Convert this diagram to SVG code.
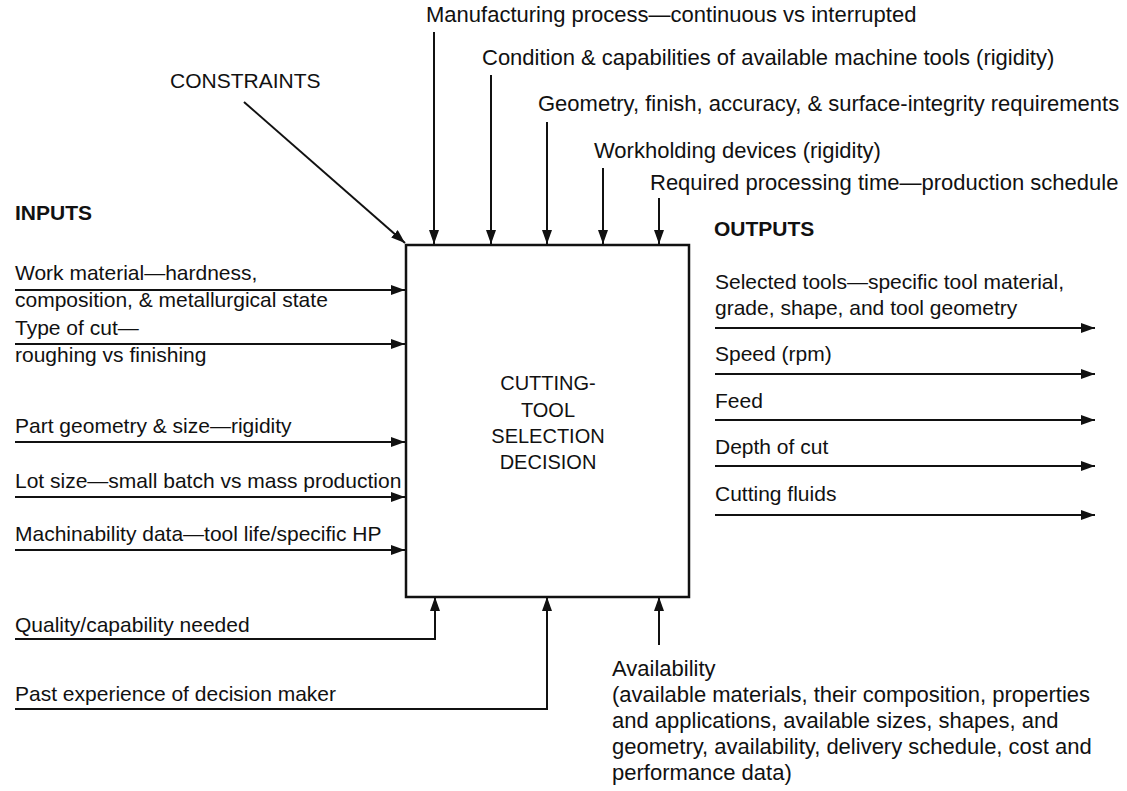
<svg xmlns="http://www.w3.org/2000/svg" width="1127" height="791" viewBox="0 0 1127 791">
<style>
text{font-family:"Liberation Sans",Arial,Helvetica,sans-serif;font-size:21px;fill:#111}
.b{font-weight:bold}
.c{text-anchor:middle;font-size:20px}
.av{font-size:22px}
.tp{font-size:22px}
.ln{stroke:#111;stroke-width:2;fill:none}
.box{stroke:#111;stroke-width:2.5;fill:#fff}
</style>
<defs>
<marker id="ah" markerUnits="userSpaceOnUse" markerWidth="14" markerHeight="10" refX="14" refY="5" orient="auto">
<path d="M0,0 L14,5 L0,10 z" fill="#111"/>
</marker>
</defs>
<rect width="1127" height="791" fill="#fff"/>

<g id="connectors">
<line class="ln" x1="244" y1="102" x2="405" y2="243" marker-end="url(#ah)"/>
<line class="ln" x1="434" y1="32" x2="434" y2="244" marker-end="url(#ah)"/>
<line class="ln" x1="491" y1="75" x2="491" y2="244" marker-end="url(#ah)"/>
<line class="ln" x1="547" y1="122" x2="547" y2="244" marker-end="url(#ah)"/>
<line class="ln" x1="603" y1="168" x2="603" y2="244" marker-end="url(#ah)"/>
<line class="ln" x1="659" y1="198" x2="659" y2="244" marker-end="url(#ah)"/>
<line class="ln" x1="15" y1="290" x2="405" y2="290" marker-end="url(#ah)"/>
<line class="ln" x1="15" y1="344" x2="405" y2="344" marker-end="url(#ah)"/>
<line class="ln" x1="15" y1="442" x2="405" y2="442" marker-end="url(#ah)"/>
<line class="ln" x1="15" y1="497" x2="405" y2="497" marker-end="url(#ah)"/>
<line class="ln" x1="15" y1="550" x2="405" y2="550" marker-end="url(#ah)"/>
<polyline class="ln" points="15,639 435,639 435,597" marker-end="url(#ah)"/>
<polyline class="ln" points="15,709 547,709 547,597" marker-end="url(#ah)"/>
<line class="ln" x1="659" y1="645" x2="659" y2="597" marker-end="url(#ah)"/>
<line class="ln" x1="715" y1="328" x2="1095" y2="328" marker-end="url(#ah)"/>
<line class="ln" x1="715" y1="374" x2="1095" y2="374" marker-end="url(#ah)"/>
<line class="ln" x1="715" y1="420" x2="1095" y2="420" marker-end="url(#ah)"/>
<line class="ln" x1="715" y1="466" x2="1095" y2="466" marker-end="url(#ah)"/>
<line class="ln" x1="715" y1="515" x2="1095" y2="515" marker-end="url(#ah)"/>
</g>

<g id="decision">
<rect class="box" x="406" y="245" width="283" height="352"/>
<text class="c" x="548" y="390">CUTTING-</text>
<text class="c" x="548" y="417">TOOL</text>
<text class="c" x="548" y="443">SELECTION</text>
<text class="c" x="548" y="469">DECISION</text>
</g>

<g id="constraints">
<text x="170" y="88">CONSTRAINTS</text>
<text class="tp" x="426" y="22">Manufacturing process—continuous vs interrupted</text>
<text class="tp" x="482" y="65">Condition &amp; capabilities of available machine tools (rigidity)</text>
<text class="tp" x="538" y="111">Geometry, finish, accuracy, &amp; surface-integrity requirements</text>
<text class="tp" x="594" y="158">Workholding devices (rigidity)</text>
<text class="tp" x="650" y="190">Required processing time—production schedule</text>
</g>

<g id="inputs">
<text class="b" x="15" y="220">INPUTS</text>
<text x="15" y="280">Work material—hardness,</text>
<text x="15" y="307">composition, &amp; metallurgical state</text>
<text x="15" y="335">Type of cut—</text>
<text x="15" y="362">roughing vs finishing</text>
<text x="15" y="433">Part geometry &amp; size—rigidity</text>
<text x="15" y="488">Lot size—small batch vs mass production</text>
<text x="15" y="541">Machinability data—tool life/specific HP</text>
<text x="15" y="632">Quality/capability needed</text>
<text x="15" y="701">Past experience of decision maker</text>
</g>

<g id="availability">
<text class="av" x="612" y="676">Availability</text>
<text class="av" x="612" y="702">(available materials, their composition, properties</text>
<text class="av" x="612" y="728">and applications, available sizes, shapes, and</text>
<text class="av" x="612" y="754">geometry, availability, delivery schedule, cost and</text>
<text class="av" x="612" y="780">performance data)</text>
</g>

<g id="outputs">
<text class="b" x="714" y="236">OUTPUTS</text>
<text x="715" y="289">Selected tools—specific tool material,</text>
<text x="715" y="315">grade, shape, and tool geometry</text>
<text x="715" y="361">Speed (rpm)</text>
<text x="715" y="408">Feed</text>
<text x="715" y="454">Depth of cut</text>
<text x="715" y="501">Cutting fluids</text>
</g>
</svg>
